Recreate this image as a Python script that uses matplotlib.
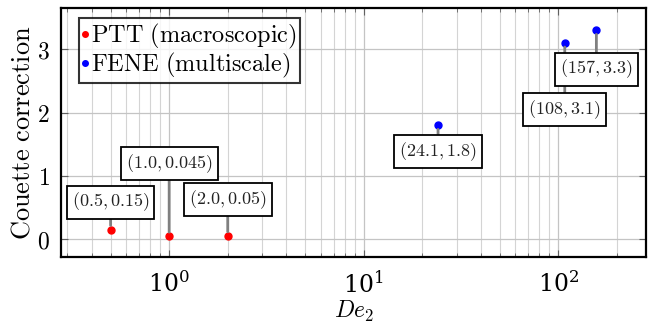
import matplotlib
matplotlib.use("Agg")
import matplotlib.pyplot as plt
from matplotlib.ticker import LogLocator, NullFormatter

plt.rcParams['mathtext.fontset'] = 'cm'
plt.rcParams['font.family'] = 'serif'
plt.rcParams['font.serif'] = ['DejaVu Serif']

# Couette correction vs. Deborah number
ptt_de = [0.5, 1.0, 2.0]
ptt_corr = [0.15, 0.045, 0.05]
fene_de = [24.1, 108, 157]
fene_corr = [1.8, 3.1, 3.3]

# pin offsets (points) for the value labels
ptt_pins = [19.8, 52.6, 26.0]
fene_pins = [-18.7, -48.0, -28.0]

fig = plt.figure(figsize=(6.56, 3.23), dpi=100)
ax = fig.add_axes([0.093, 0.204, 0.892, 0.771])

ax.set_xscale('log')
ax.set_xlim(0.278, 283)
ax.set_ylim(-0.284, 3.65)

ax.xaxis.set_major_locator(LogLocator(base=10))
ax.xaxis.set_minor_locator(LogLocator(base=10, subs=range(2, 10)))
ax.xaxis.set_minor_formatter(NullFormatter())
ax.set_yticks([0, 1, 2, 3])
ax.set_yticklabels([r'$%d$' % v for v in [0, 1, 2, 3]])

ax.grid(True, which='major', color='#c4c4c4', lw=0.9)
ax.grid(True, which='minor', axis='x', color='#d4d4d4', lw=0.8)
ax.set_axisbelow(True)

ax.tick_params(which='both', direction='in', top=True, right=True, color='#606060')
ax.tick_params(which='major', length=5, labelsize=17)
ax.tick_params(axis='x', which='major', pad=10)
ax.tick_params(axis='y', which='major', pad=8)
ax.tick_params(which='minor', length=3)
for s in ax.spines.values():
    s.set_linewidth(1.6)

ax.plot(ptt_de, ptt_corr, 'o', color='red', ms=5, ls='none', label=r'$\mathrm{PTT\ (macroscopic)}$', zorder=5)
ax.plot(fene_de, fene_corr, 'o', color='blue', ms=5, ls='none', label=r'$\mathrm{FENE\ (multiscale)}$', zorder=5)


def pin(x, y, dy):
    ax.annotate(r'$(%s, %s)$' % (x, y), xy=(x, y), xytext=(0, dy), textcoords='offset points',
                ha='center', va='center', fontsize=13, color='#222222',
                bbox=dict(boxstyle='square,pad=0.28', fc='white', ec='black', lw=1.3),
                arrowprops=dict(arrowstyle='-', color='#808080', lw=2, shrinkA=0, shrinkB=3),
                zorder=6)


for x, y, dy in zip(ptt_de, ptt_corr, ptt_pins):
    pin(x, y, dy)
for x, y, dy in zip(fene_de, fene_corr, fene_pins):
    pin(x, y, dy)

ax.set_ylabel(r'$\mathrm{Couette\ correction}$', fontsize=19, labelpad=2)
ax.set_xlabel(r'$De_2$', fontsize=17, labelpad=1)

leg = ax.legend(loc='upper left', bbox_to_anchor=(0.022, 0.98), fontsize=17.5, frameon=True,
                fancybox=False, edgecolor='black', handlelength=0.25, handletextpad=0.1,
                borderpad=0.15, labelspacing=0.0, borderaxespad=0.2, markerscale=0.8)
leg.get_frame().set_linewidth(1.5)

fig.savefig('out.png', dpi=100)
